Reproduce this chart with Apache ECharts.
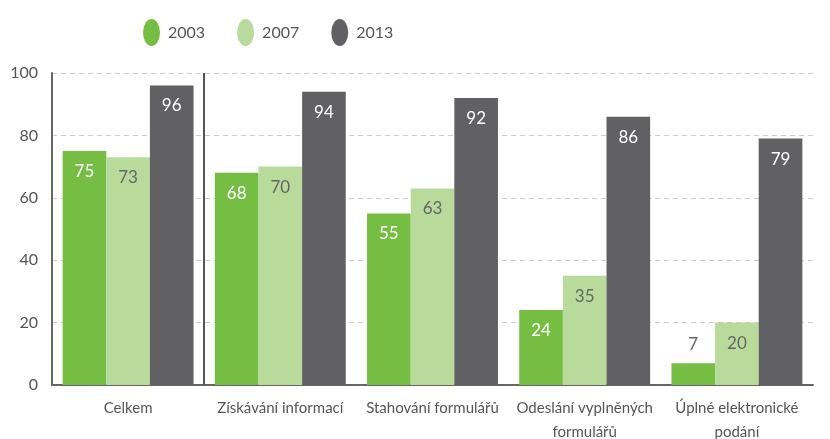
<!DOCTYPE html>
<html>
<head>
<meta charset="utf-8">
<script src="https://cdn.jsdelivr.net/npm/echarts@6/dist/echarts.min.js"></script>
<style>
  html, body { margin: 0; padding: 0; background: #fff; }
  #chart { width: 830px; height: 439px; }
</style>
</head>
<body>
<div id="chart"></div>
<script>
// data
var categories = ['Celkem', 'Získávání informací', 'Stahování formulářů', 'Odeslání vyplněných\nformulářů', 'Úplné elektronické\npodání'];
var years = ['2003', '2007', '2013'];
var values2003 = [75, 68, 55, 24, 7];
var values2007 = [73, 70, 63, 35, 20];
var values2013 = [96, 94, 92, 86, 79];
var yTicks = [0, 20, 40, 60, 80, 100];
var separatorAfter = 1; // vertical line after "Celkem"

var colors = ['#76bd43', '#b8db9b', '#616062'];
var labelColors = ['#ffffff', '#666666', '#ffffff'];
var fontFamily = 'Lato, "Noto Sans", sans-serif';

function makeSeries(name, data, idx) {
    return {
        name: name,
        type: 'bar',
        data: data.map(function (v) {
            // small bars get their label above the bar
            if (v < 12) {
                return { value: v, label: { position: 'top', color: '#666666', distance: 10 } };
            }
            return v;
        }),
        barGap: 0,
        barCategoryGap: '14%',
        itemStyle: { color: colors[idx] },
        label: {
            show: true,
            position: 'insideTop',
            distance: 12,
            color: labelColors[idx],
            fontSize: 17,
            fontFamily: fontFamily
        }
    };
}

var option = {
    backgroundColor: '#fff',
    animation: false,
    legend: {
        top: 14,
        left: 138,
        itemWidth: 17,
        itemHeight: 27,
        itemGap: 32,
        symbolKeepAspect: false,
        icon: 'path://M50,0A50,50 0 1,1 50,100A50,50 0 1,1 50,0Z',
        textStyle: { color: '#555', fontSize: 16, fontFamily: fontFamily, padding: [0, 0, 0, 3] },
        data: years
    },
    grid: { left: 52, right: 17, top: 73, bottom: 54, outerBoundsMode: 'none', containLabel: false },
    xAxis: [{
        type: 'category',
        data: categories,
        axisLine: { lineStyle: { color: '#666', width: 2 } },
        axisTick: { show: false },
        axisLabel: {
            color: '#555',
            fontSize: 15,
            fontFamily: fontFamily,
            margin: 11,
            lineHeight: 24,
            interval: 0
        }
    }, {
        // helper axis for the separator line
        type: 'value',
        min: 0,
        max: categories.length,
        show: false
    }],
    yAxis: {
        type: 'value',
        min: yTicks[0],
        max: yTicks[yTicks.length - 1],
        interval: 20,
        axisLine: { show: true, lineStyle: { color: '#666', width: 2 } },
        axisTick: { show: false },
        axisLabel: { color: '#555', fontSize: 16, fontFamily: fontFamily, margin: 14 },
        splitLine: { lineStyle: { color: '#cccccc', type: [5, 4], width: 1 } }
    },
    series: [
        makeSeries(years[0], values2003, 0),
        makeSeries(years[1], values2007, 1),
        makeSeries(years[2], values2013, 2),
        {
            name: 'separator',
            type: 'line',
            xAxisIndex: 1,
            data: [],
            silent: true,
            markLine: {
                symbol: 'none',
                silent: true,
                label: { show: false },
                lineStyle: { color: '#555', width: 2, type: 'solid' },
                data: [{ xAxis: separatorAfter }]
            }
        }
    ]
};

var myChart = echarts.init(document.getElementById('chart'));
myChart.setOption(option);
</script>
</body>
</html>
